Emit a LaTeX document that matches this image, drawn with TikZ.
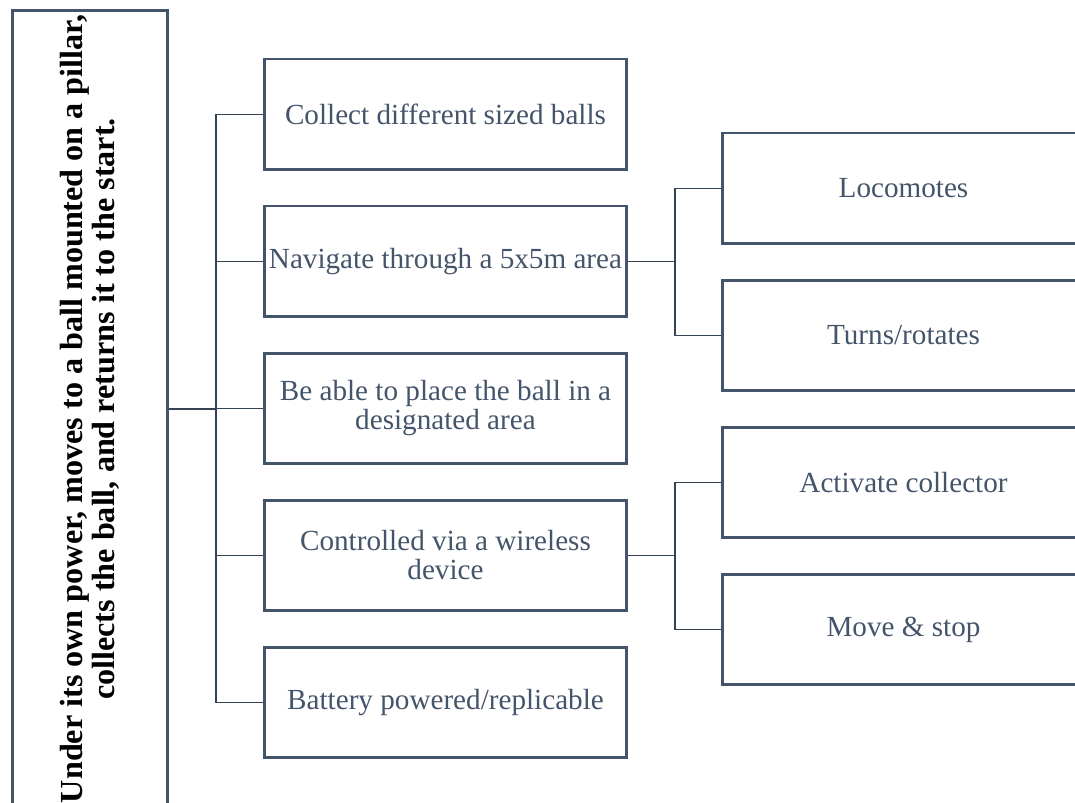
\documentclass[tikz,border=0pt]{standalone}
\usepackage{fontspec}
\setmainfont{Liberation Serif}
\usepackage{tikz}
\usetikzlibrary{calc}
\definecolor{slate}{HTML}{44546A}
\tikzset{box/.style = {shape=rectangle,draw=slate,line width=1.7pt,minimum width=7.26cm,minimum height=2.22cm,inner sep=1pt,align=center,text=slate,font=\fontsize{16.6}{16.5}\selectfont}}
\tikzset{link/.style = {draw=slate!80!black,line width=1pt}}

\begin{document}
\begin{tikzpicture}[x=0.02cm,y=-0.02cm]
                    \useasboundingbox (0,0) rectangle (1075,803);

                    \node[box,rotate=90,minimum width=15.96cm,minimum height=3.12cm,text=black,
                          font=\bfseries\fontsize{18.3}{18.2}\selectfont] (goal) at (90,409)
                          {Under its own power, moves to a ball mounted on a pillar,\\collects the ball, and returns it to the start.};

                    \node[box] (r1) at (445.5,114.5) {Collect different sized balls};
                    \node[box] (r2) at (445.5,261.5) {Navigate through a 5x5m area};
                    \node[box] (r3) at (445.5,408.5) {Be able to place the ball in a\\designated area};
                    \node[box] (r4) at (445.5,555.5) {Controlled via a wireless\\device};
                    \node[box] (r5) at (445.5,702.5) {Battery powered/replicable};

                    \node[box] (s1) at (903.5,188.5) {Locomotes};
                    \node[box] (s2) at (903.5,335.5) {Turns/rotates};
                    \node[box] (s3) at (903.5,482.5) {Activate collector};
                    \node[box] (s4) at (903.5,629.5) {Move \& stop};

                    \coordinate (bus) at (216,409);
                    \coordinate (fork1) at (675,261.5);
                    \coordinate (fork2) at (675,555.5);

                    \draw[link] (goal.south) -- (bus);
                    \foreach \n in {r1,r2,r3,r4,r5}
                        \draw[link] (bus) |- (\n.west);

                    \draw[link] (r2.east) -- (fork1);
                    \draw[link] (fork1) |- (s1.west);
                    \draw[link] (fork1) |- (s2.west);
                    \draw[link] (r4.east) -- (fork2);
                    \draw[link] (fork2) |- (s3.west);
                    \draw[link] (fork2) |- (s4.west);
                \end{tikzpicture}
\end{document}
